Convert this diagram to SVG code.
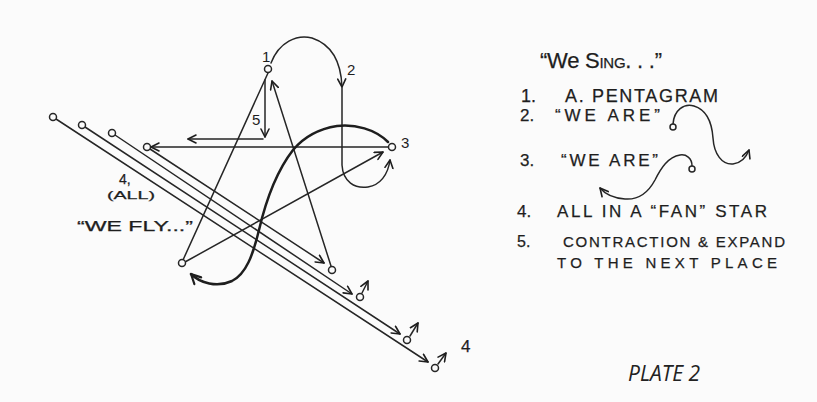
<svg xmlns="http://www.w3.org/2000/svg" width="817" height="402" viewBox="0 0 817 402">
<defs>
<style>
.ln{fill:none;stroke:#262626;stroke-width:1.5;stroke-linecap:round}
.thick{fill:none;stroke:#1e1e1e;stroke-width:2.5;stroke-linecap:round}
.nd{fill:#fbfbfb;stroke:#262626;stroke-width:1.5}
.hw{font-family:"Liberation Sans","DejaVu Sans",sans-serif;fill:#1e1e1e;stroke:#1e1e1e;stroke-width:0.25}
.lbl{font-family:"Liberation Sans","DejaVu Sans",sans-serif;fill:#1e1e1e;font-size:15px}
</style>
<marker id="ah" viewBox="0 0 10 10" refX="9" refY="5" markerWidth="10" markerHeight="10" markerUnits="userSpaceOnUse" orient="auto">
<path d="M1,1 L9,5 L1,9" fill="none" stroke="#1e1e1e" stroke-width="1.6" stroke-linecap="round" stroke-linejoin="round"/>
</marker>
<marker id="ahb" viewBox="0 0 10 10" refX="9" refY="5" markerWidth="12" markerHeight="12" markerUnits="userSpaceOnUse" orient="auto">
<path d="M1,1 L9,5 L1,9" fill="none" stroke="#1e1e1e" stroke-width="1.8" stroke-linecap="round" stroke-linejoin="round"/>
</marker>
</defs>
<rect width="817" height="402" fill="#fbfbfb"/>

<g id="connectors">
<!-- pentagram -->
<line class="ln" x1="268" y1="73" x2="183" y2="260"/>
<line class="ln" x1="331" y1="266" x2="272" y2="81" marker-end="url(#ah)"/>
<line class="ln" x1="388" y1="147" x2="151" y2="147" marker-end="url(#ah)"/>
<line class="ln" x1="185" y1="262" x2="383" y2="152" marker-end="url(#ah)"/>
<line class="ln" x1="150" y1="149" x2="324" y2="263" marker-end="url(#ah)"/>
<!-- fan lines -->
<line class="ln" x1="56" y1="119" x2="428" y2="362" marker-end="url(#ah)"/>
<line class="ln" x1="85" y1="127" x2="400" y2="334" marker-end="url(#ah)"/>
<line class="ln" x1="115" y1="135" x2="352" y2="294" marker-end="url(#ah)"/>
<!-- 5: contraction -->
<line class="ln" x1="265" y1="80" x2="265" y2="137" marker-end="url(#ah)"/>
<line class="ln" x1="263" y1="139" x2="188" y2="139" marker-end="url(#ah)"/>
<!-- 2: we are loop -->
<path class="ln" d="M271,63 C279,42 297,34 312,38 C330,44 341,60 342,87" marker-end="url(#ah)"/>
<path class="ln" d="M342,88 L342,165 C343,182 355,189 368,187 C380,185 388,175 390,160" marker-end="url(#ah)"/>
<!-- 3: big S curve -->
<path class="thick" d="M388,142 C375,129 355,124 337,126 C318,129 303,138 293,150 C276,172 266,200 259,230 C253,255 246,274 232,281 C217,288 200,283 191,274" marker-end="url(#ahb)"/>
<!-- fan end pointers -->
<line class="ln" x1="362" y1="293" x2="368" y2="281" marker-end="url(#ah)"/>
<line class="ln" x1="410" y1="336" x2="418" y2="323" marker-end="url(#ah)"/>
<line class="ln" x1="438" y1="364" x2="446" y2="353" marker-end="url(#ah)"/>
<!-- legend squiggles -->
<path class="ln" d="M673,124 C674,110 684,103 694,106 C707,110 712,124 713,138 C714,154 722,165 733,164 C741,163 746,158 749,150" marker-end="url(#ah)"/>
<path class="ln" d="M692,166 C692,158 686,154 680,155 C668,157 661,168 655,180 C648,193 638,200 625,199 C612,198 605,194 600,188" marker-end="url(#ah)"/>
</g>

<g id="node-1"><circle class="nd" cx="268" cy="69" r="3.5"/><text class="lbl" x="262" y="62">1</text></g>
<g id="node-3"><circle class="nd" cx="392" cy="147" r="3.5"/><text class="lbl" x="401" y="148">3</text></g>
<g id="node-left"><circle class="nd" cx="147" cy="147" r="3.5"/></g>
<g id="node-bottom-left"><circle class="nd" cx="182" cy="263" r="3.5"/></g>
<g id="node-bottom-right"><circle class="nd" cx="332" cy="270" r="3.5"/></g>
<g id="node-fan-a"><circle class="nd" cx="53" cy="117" r="3.5"/></g>
<g id="node-fan-b"><circle class="nd" cx="82" cy="125" r="3.5"/></g>
<g id="node-fan-c"><circle class="nd" cx="112" cy="133" r="3.5"/></g>
<g id="node-fan-end-c"><circle class="nd" cx="360" cy="297" r="3.5"/></g>
<g id="node-fan-end-b"><circle class="nd" cx="407" cy="340" r="3.5"/></g>
<g id="node-fan-end-a"><circle class="nd" cx="435" cy="368" r="3.5"/></g>
<g id="node-legend-2"><circle class="nd" cx="673" cy="127" r="3"/></g>
<g id="node-legend-3"><circle class="nd" cx="692" cy="169" r="3"/></g>

<g id="labels">
<text class="lbl" x="347" y="75">2</text>
<text class="lbl" x="252" y="125">5</text>
<text class="hw" x="461" y="352" font-size="17">4</text>
<text class="hw" x="119" y="184" font-size="14">4,</text>
<text class="hw" x="107" y="199" font-size="11" textLength="48" lengthAdjust="spacingAndGlyphs">(ALL)</text>
<text class="hw" x="77" y="231" font-size="14" textLength="116" lengthAdjust="spacingAndGlyphs">“WE FLY...”</text>
</g>

<g id="legend">
<text class="hw" x="540" y="68" font-size="22" textLength="122" lengthAdjust="spacing">“We <tspan font-variant="small-caps">Sing</tspan>. . .”</text>
<text class="hw" x="521" y="102" font-size="18">1.</text>
<text class="hw" x="565" y="102" font-size="18" textLength="153" lengthAdjust="spacing">A. PENTAGRAM</text>
<text class="hw" x="520" y="121" font-size="17">2.</text>
<text class="hw" x="555" y="121" font-size="17" textLength="105" lengthAdjust="spacing">“WE ARE”</text>
<text class="hw" x="520" y="166" font-size="17">3.</text>
<text class="hw" x="561" y="166" font-size="17" textLength="97" lengthAdjust="spacing">“WE ARE”</text>
<text class="hw" x="517" y="217" font-size="17">4.</text>
<text class="hw" x="557" y="217" font-size="17" textLength="210" lengthAdjust="spacing">ALL IN A “FAN” STAR</text>
<text class="hw" x="517" y="247" font-size="16">5.</text>
<text class="hw" x="563" y="247" font-size="15" textLength="222" lengthAdjust="spacing">CONTRACTION &amp; EXPAND</text>
<text class="hw" x="557" y="268" font-size="15" textLength="220" lengthAdjust="spacing">TO THE NEXT PLACE</text>
</g>

<text x="628" y="381" font-family="'Open Sans','Liberation Sans',sans-serif" font-style="italic" font-size="21" fill="#222">PLATE 2</text>
</svg>
